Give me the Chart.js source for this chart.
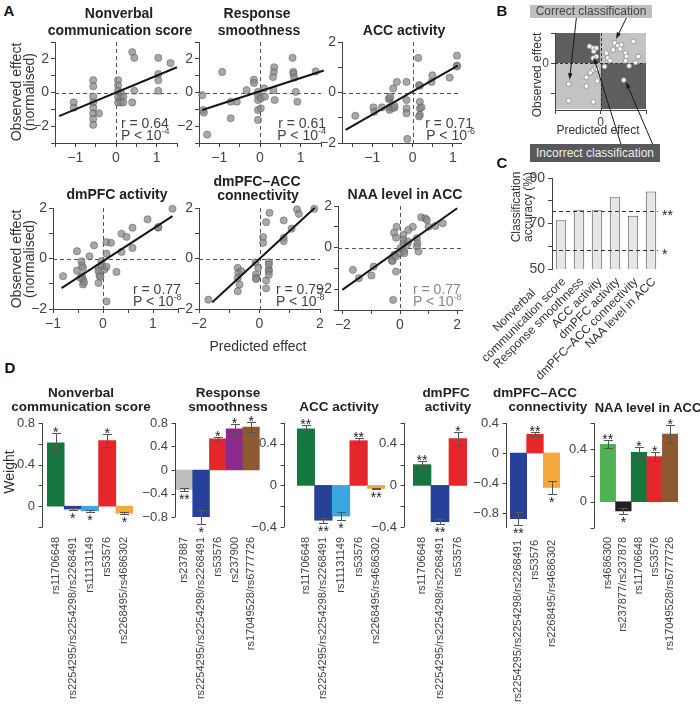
<!DOCTYPE html>
<html><head><meta charset="utf-8"><title>Figure</title>
<script src="https://cdn.jsdelivr.net/npm/chart.js@4.4.1/dist/chart.umd.min.js"></script>
<style>
html,body{margin:0;padding:0;background:#fff;width:700px;height:716px;overflow:hidden}
#wrap{position:relative;width:700px;height:716px;font-family:"Liberation Sans",Arial,Helvetica,sans-serif}
#wrap canvas{position:absolute}
.t{position:absolute;white-space:nowrap;line-height:1;z-index:5}
.t sup{font-size:9px;line-height:0;vertical-align:6px}
</style></head><body><div id="wrap"></div>
<script>
// ================= DATA =================
// Panel A scatter data (predicted effect x, observed effect y)
const nvcX = [-1.04,-1.04,-0.56,-0.56,-0.56,-0.56,-0.56,-0.56,-0.56,-0.56,-0.42,0.05,0.05,0.05,0.05,0.05,0.12,0.12,0.12,0.18,0.18,0.4,0.45,0.45,0.4,1.04,1.04,1.04,1.04,1.34];
const nvcY = [-0.59,-0.9,0.73,0.37,-0.25,-0.59,-0.9,-1.24,-1.57,-1.92,-1.24,0.73,0.43,0.1,-0.25,-0.59,0.0,-0.25,-0.59,-0.25,-0.59,2.4,2.06,0.1,-0.59,2.06,1.1,0.73,0.1,1.75];
const nvcFitX = [-1.4, 1.5], nvcFitY = [-1.4, 1.5];

const rsX = [-1.42,-1.40,-1.38,-1.30,-0.93,-0.72,-0.72,-0.57,-0.33,-0.15,-0.15,-0.05,-0.05,-0.05,-0.05,-0.05,0.02,0.02,0.1,0.12,0.34,0.35,0.32,0.33,0.36,0.8,0.82,0.82,0.84,0.88,0.92,1.37];
const rsY = [-0.16,-1.04,-1.2,-2.5,1.22,-0.55,-1.53,-0.55,0.14,0.76,0.57,0.04,-0.16,-0.45,-1.04,-1.63,-0.94,-0.35,0.24,-0.25,1.22,1.5,0.92,0.14,-0.45,2.06,1.22,1.12,0.88,0.04,-0.55,1.25];
const rsFitX = [-1.42, 1.57], rsFitY = [-1.04, 1.31];

const accX = [-1.42,-0.97,-0.95,-0.76,-0.57,-0.57,-0.57,-0.59,-0.55,-0.5,-0.45,-0.45,-0.48,-0.39,-0.15,-0.15,-0.15,-0.15,-0.13,0.14,0.16,0.18,0.18,0.18,0.18,0.16,0.22,0.47,0.49,0.92,1.1,1.1,1.1];
const accY = [-0.92,-0.59,-0.76,-0.59,-0.69,-0.59,-0.27,-0.24,-0.17,-0.6,-0.6,-0.52,0.16,0.42,0.42,-0.3,-0.63,-0.82,-1.84,1.37,0.29,0.27,-0.37,-0.63,-0.89,-0.95,-0.59,0.42,0.68,0.59,1.46,1.07,1.03];
const accFitX = [-1.66, 1.12], accFitY = [-1.48, 1.06];

const dmX = [-0.8,-0.52,-0.52,-0.43,-0.42,-0.4,-0.42,-0.4,-0.4,-0.38,-0.45,-0.27,-0.18,-0.09,-0.09,-0.07,-0.05,-0.09,-0.03,-0.02,0.03,0.07,0.16,0.07,0.07,0.07,0.27,0.37,0.37,0.47,0.59,0.59,0.89,1.1,1.11,1.39];
const dmY = [-0.7,0.29,-0.48,-0.11,-0.28,-0.37,-0.7,-0.83,-1.03,-0.94,-0.77,0.09,0.52,-0.37,-0.5,-0.68,-0.73,-0.97,-0.1,-0.3,-0.44,0.65,0.62,0.19,-0.33,-1.7,-0.53,0.26,0.98,0.86,0.42,1.22,1.55,1.22,1.25,1.97];
const dmFitX = [-0.83, 1.39], dmFitY = [-1.17, 1.68];

const cnX = [-1.69,-0.72,-0.7,-0.72,-0.66,-0.72,-0.6,-0.13,-0.12,-0.1,-0.12,-0.04,0.12,0.12,0.22,0.31,0.31,0.31,0.31,0.33,0.22,0.22,0.31,0.8,0.8,0.8,1.06,1.24,1.3,1.81];
const cnY = [-1.63,-0.37,-0.57,-0.77,-1.03,-1.3,-0.5,-0.15,-0.64,-0.77,-0.81,-0.37,0.85,0.62,1.44,-0.15,-0.44,-0.5,-0.24,1.81,-0.87,-1.18,-0.64,1.51,0.82,0.69,1.18,1.95,1.77,1.97];
const cnFitX = [-1.56, 1.83], cnFitY = [-1.73, 2.01];

const naX = [-1.65,-1.44,-1.0,-0.92,-0.29,-0.26,-0.2,-0.14,-0.14,-0.24,-0.21,-0.12,-0.14,0.0,0.02,0.12,0.12,0.12,0.14,0.15,0.24,0.29,0.29,0.45,0.59,0.61,0.59,0.65,0.74,0.88,0.94,1.0,1.24,1.5];
const naY = [-1.07,-1.47,-1.34,-0.91,-0.62,-0.64,-0.35,-0.43,-1.15,-2.51,0.72,1.0,0.48,-0.27,-0.03,0.61,0.37,0.21,-0.16,-0.27,0.13,0.29,0.85,1.0,0.45,0.21,0.05,-0.19,1.46,1.41,1.33,1.0,1.04,1.17];
const naFitX = [-2.02, 2.0], naFitY = [-2.03, 1.89];

// Panel A tick values / labels
const tA1x = [-1.5,-1,-0.5,0,0.5,1,1.5], lA1x = ['','\u22121','','0','','1',''];
const tA1y = [-3,-2,-1,0,1,2,3],          lA1y = ['','\u22122','','0','','2',''];
const tA3x = [-1.5,-1,-0.5,0,0.5,1],      lA3x = ['','\u22121','','0','','1'];
const tA3y = [-2,-1,0,1,2],               lA3y = ['\u22122','','0','','2'];
const tA4x = [-1,-0.5,0,0.5,1,1.5],       lA4x = ['\u22121','','0','','1',''];
const tA5x = [-2,-1,0,1,2],               lA5x = ['\u22122','','0','','2'];
const tA6y = [-3,-2,-1,0,1,2],            lA6y = ['','\u22122','','0','','2'];

// Panel B schematic points and arrows
const bX = [-0.7,-0.7,-0.31,-0.31,-0.22,-0.16,-0.11,-0.07,-0.07,-0.16,-0.24,-0.16,-0.09,-0.15,-0.09,-0.16,0.09,0.13,0.16,0.21,0.31,0.38,0.46,0.43,0.28,0.72,0.55,0.57,0.55,0.63,0.77,0.83,0.51];
const bY = [-0.69,-1.24,-0.47,-0.76,-0.31,-0.22,-0.17,-0.2,-0.59,-1.28,0.56,0.5,0.5,0.39,0.22,0.17,-0.11,0.33,0.17,0.09,0.67,0.58,0.61,0.47,0.44,0.72,0.33,0.22,0.08,-0.09,0.02,0.22,-0.56];
const arrowTailX = [-0.53, 0.57, 0.46, 1.16], arrowTailY = [1.5, 1.5, -2.73, -2.73];
const arrowHeadX = [-0.68, 0.34, -0.15, 0.56], arrowHeadY = [-0.55, 0.8, 0.2, -0.62];
const tBx = [-1,0,1], lBx = ['','0',''];
const tBy = [-1,0,1], lBy = ['','0',''];

// Panel C
const cCategories = [['Nonverbal', 'communication score'], 'Response smoothness', 'ACC activity', 'dmPFC activity', 'dmPFC\u2013ACC connectivity', 'NAA level in ACC'];
const cAccuracy = [71.4, 75.8, 75.8, 81.5, 73.4, 84.1];
const cSigLevels = [75.6, 58.5], cSigLabels = ['**', '*'];
const tCy = [50,60,70,80,90], lCy = ['50','','70','','90'];

// Panel D
const d1Labels = ['rs11706648','rs2254295/rs2254298/rs2268491','rs11131149','rs53576','rs2268495/rs4686302'];
const d1Weights = [0.61,-0.028,-0.045,0.63,-0.068], d1Err = [0.09,0.008,0.008,0.06,0.008], d1Stars = ['*','*','*','*','*'];
const d2Labels = ['rs237887','rs2254295/rs2254298/rs2268491','rs53576','rs237900','rs17049528/rs6777726'];
const d2Weights = [-0.33,-0.80,0.53,0.70,0.73], d2Err = [0.025,0.12,0.04,0.08,0.08], d2Stars = ['**','*','*','*','*'];
const d3Labels = ['rs11706648','rs2254295/rs2254298/rs2268491','rs11131149','rs53576','rs2268495/rs4686302'];
const d3Weights = [0.545,-0.335,-0.295,0.43,-0.03], d3Err = [0.04,0.025,0.035,0.025,0.008], d3Stars = ['**','**','*','**','**'];
const d4Labels = ['rs11706648','rs2254295/rs2254298/rs2268491','rs53576'];
const d4Weights = [0.20,-0.35,0.45], d4Err = [0.035,0.025,0.06], d4Stars = ['**','**','*'];
const d5Labels = ['rs2254295/rs2254298/rs2268491','rs53576','rs2268495/rs4686302'];
const d5Weights = [-0.876,0.25,-0.46], d5Err = [0.09,0.025,0.09], d5Stars = ['**','**','*'];
const d6Labels = ['rs4686300','rs237877/rs237878','rs11706648','rs53576','rs17049528/rs6777726'];
const d6Weights = [0.438,-0.07,0.377,0.344,0.515], d6Err = [0.03,0.02,0.04,0.035,0.07], d6Stars = ['**','*','*','*','*'];
const tD1y = [-0.2,0,0.2,0.4,0.6,0.8], lD1y = ['','0','','0.4','','0.8'];
const tD2y = [-0.8,-0.4,0,0.4,0.8],    lD2y = ['\u22120.8','\u22120.4','0','0.4','0.8'];
const tD3y = [-0.4,-0.2,0,0.2,0.4,0.6], lD3y = ['\u22120.4','','0','','0.4',''];
const tD5y = [-0.8,-0.4,0,0.4],        lD5y = ['\u22120.8','\u22120.4','0','0.4'];
const tD6y = [-0.2,0,0.2,0.4,0.6],     lD6y = ['','0','','0.4',''];

// ================= STYLE =================
const FONT = '"Liberation Sans", Arial, Helvetica, sans-serif';
const GREEN='#16763f', BLUE='#27409a', CYAN='#38a8df', RED='#e5262b', ORANGE='#f3a83b',
      GREY='#bdbdbd', PURPLE='#8c2b8b', BROWN='#8b5a33', LGREEN='#50b153', BLACK='#231f20';
Chart.defaults.font.family = FONT;
Chart.defaults.font.size = 14;
Chart.defaults.color = '#444';
Chart.defaults.animation = false;

const wrap = document.getElementById('wrap');

function text(html, x, y, o = {}) {
  const d = document.createElement('div');
  d.className = 't';
  d.innerHTML = html;
  d.style.left = x + 'px'; d.style.top = y + 'px';
  d.style.fontSize = (o.size || 14) + 'px';
  if (o.bold) d.style.fontWeight = 'bold';
  d.style.color = o.color || '#222';
  if (o.lh) d.style.lineHeight = o.lh + 'px';
  d.style.textAlign = 'center';
  const al = o.align || 'c';
  let tr = 'translate(-50%,-50%)';
  if (o.rot) tr = 'translate(-50%,-50%) rotate(-90deg)';
  else if (al === 'l') tr = 'translate(0,-50%)';
  else if (al === 'r') tr = 'translate(-100%,-50%)';
  d.style.transform = tr;
  wrap.appendChild(d);
  return d;
}
function box(html, x0, y0, x1, y1, bg, color) {
  const d = document.createElement('div');
  d.className = 't';
  d.innerHTML = html;
  Object.assign(d.style, {left: x0 + 'px', top: y0 + 'px', width: (x1 - x0) + 'px', height: (y1 - y0) + 'px',
    lineHeight: (y1 - y0) + 'px', background: bg, color: color, fontSize: '12px', textAlign: 'center'});
  wrap.appendChild(d);
}

function mkCanvas(cr) {
  const cv = document.createElement('canvas');
  cv.width = cr[2] - cr[0]; cv.height = cr[3] - cr[1];
  cv.style.left = cr[0] + 'px'; cv.style.top = cr[1] + 'px';
  cv.style.width = cv.width + 'px'; cv.style.height = cv.height + 'px';
  wrap.appendChild(cv);
  return cv;
}
function build(cr, pr, cfg) {
  const cv = mkCanvas(cr);
  const o = cfg.options;
  o.responsive = false; o.maintainAspectRatio = false; o.animation = false; o.devicePixelRatio = 1; o.events = [];
  o.plugins = Object.assign({legend: {display: false}, tooltip: {enabled: false}, title: {display: false}}, o.plugins || {});
  o.layout = {padding: {left: 0, top: pr[1] - cr[1], right: cr[2] - pr[2], bottom: 0}};
  const xH = cr[3] - pr[3], yW = pr[0] - cr[0];
  o.scales.x.afterFit = s => { s.height = xH; };
  o.scales.y.afterFit = s => { s.width = yW; };
  return new Chart(cv, cfg);
}
function linAxis(min, max, tv, tl, pad, fs) {
  return {type: 'linear', min, max,
    afterBuildTicks: s => { s.ticks = tv.map(v => ({value: v})); },
    ticks: {autoSkip: false, maxRotation: 0, minRotation: 0, padding: pad, color: '#444', font: {size: fs || 14},
      callback: (v, i) => tl[i]},
    grid: {display: true, drawOnChartArea: false, drawTicks: true, tickLength: 4, color: '#444', lineWidth: 1},
    border: {display: true, color: '#444', width: 1}};
}

// ---------- plugins ----------
function zeroLines(color) {
  return {id: 'zeroLines', beforeDatasetsDraw(c) {
    const {ctx, chartArea: a, scales: {x, y}} = c;
    ctx.save(); ctx.strokeStyle = color || '#555'; ctx.lineWidth = 1; ctx.setLineDash([4, 3]);
    const px = Math.round(x.getPixelForValue(0)) + 0.5, py = Math.round(y.getPixelForValue(0)) + 0.5;
    ctx.beginPath(); ctx.moveTo(px, a.top); ctx.lineTo(px, a.bottom); ctx.moveTo(a.left, py); ctx.lineTo(a.right, py); ctx.stroke();
    ctx.restore();
  }};
}
function quadPlugin() {
  return {id: 'quads', beforeDatasetsDraw(c) {
    const {ctx, chartArea: a, scales: {x, y}} = c;
    const px = x.getPixelForValue(0), py = y.getPixelForValue(0);
    ctx.save();
    ctx.fillStyle = '#5e5e5e';
    ctx.fillRect(a.left + 1, a.top, px - a.left - 1, py - a.top);
    ctx.fillRect(px, py, a.right - px, a.bottom - py - 1);
    ctx.fillStyle = '#c3c3c3';
    ctx.fillRect(px, a.top, a.right - px, py - a.top);
    ctx.fillRect(a.left + 1, py, px - a.left - 1, a.bottom - py - 1);
    ctx.strokeStyle = '#333'; ctx.setLineDash([3, 2]); ctx.lineWidth = 1;
    ctx.beginPath();
    ctx.moveTo(Math.round(px) + 0.5, a.top); ctx.lineTo(Math.round(px) + 0.5, a.bottom);
    ctx.moveTo(a.left, Math.round(py) + 0.5); ctx.lineTo(a.right, Math.round(py) + 0.5);
    ctx.stroke(); ctx.restore();
  }};
}
function arrowPlugin(tx, ty, hx, hy) {
  return {id: 'arrows', afterDraw(c) {
    const {ctx, scales: {x, y}} = c;
    ctx.save(); ctx.strokeStyle = '#1a1a1a'; ctx.fillStyle = '#1a1a1a'; ctx.lineWidth = 1;
    for (let i = 0; i < tx.length; i++) {
      const x0 = x.getPixelForValue(tx[i]), y0 = y.getPixelForValue(ty[i]);
      const x1 = x.getPixelForValue(hx[i]), y1 = y.getPixelForValue(hy[i]);
      const ang = Math.atan2(y1 - y0, x1 - x0), L = 7;
      ctx.beginPath(); ctx.moveTo(x0, y0); ctx.lineTo(x1 - Math.cos(ang) * 4, y1 - Math.sin(ang) * 4); ctx.stroke();
      ctx.beginPath(); ctx.moveTo(x1, y1);
      ctx.lineTo(x1 - L * Math.cos(ang - 0.33), y1 - L * Math.sin(ang - 0.33));
      ctx.lineTo(x1 - L * Math.cos(ang + 0.33), y1 - L * Math.sin(ang + 0.33));
      ctx.closePath(); ctx.fill();
    }
    ctx.restore();
  }};
}
function sigPlugin(vals, labs) {
  return {id: 'sig', afterDatasetsDraw(c) {
    const {ctx, chartArea: a, scales: {y}} = c;
    ctx.save(); ctx.strokeStyle = '#333'; ctx.lineWidth = 1; ctx.setLineDash([4, 3]);
    ctx.font = '14px ' + FONT; ctx.fillStyle = '#222'; ctx.textAlign = 'left'; ctx.textBaseline = 'alphabetic';
    vals.forEach((v, i) => {
      const py = Math.round(y.getPixelForValue(v)) + 0.5;
      ctx.beginPath(); ctx.moveTo(a.left, py); ctx.lineTo(a.right - 2, py); ctx.stroke();
      ctx.fillText(labs[i], a.right + 2, py + 8);
    });
    ctx.restore();
  }};
}
// 45-degree category labels, multi-line blocks centred and stacked up-left of the tick
function rotLabels(dx, dy, fs, color) {
  return {id: 'rotLabels', afterDraw(c) {
    const ctx = c.ctx, xs = c.scales.x, a = c.chartArea, labels = c.data.labels;
    ctx.save(); ctx.font = fs + 'px ' + FONT; ctx.fillStyle = color; ctx.textAlign = 'right'; ctx.textBaseline = 'middle';
    const lh = fs * 1.12;
    labels.forEach((lab, i) => {
      const lines = Array.isArray(lab) ? lab : [lab];
      const ws = lines.map(l => ctx.measureText(l).width), mw = Math.max(...ws);
      ctx.save(); ctx.translate(xs.getPixelForTick(i) + dx, a.bottom + dy); ctx.rotate(-Math.PI / 4);
      lines.forEach((l, j) => ctx.fillText(l, -(mw - ws[j]) / 2, -(lines.length - 1 - j) * lh));
      ctx.restore();
    });
    ctx.restore();
  }};
}
function gapAxis(gap) {
  return {id: 'gapAxis', afterDraw(c) {
    const ctx = c.ctx, ys = c.scales.y, x = Math.round(c.chartArea.left - gap) + 0.5;
    ctx.save(); ctx.strokeStyle = '#444'; ctx.lineWidth = 1; ctx.beginPath();
    ctx.moveTo(x, ys.getPixelForValue(ys.max)); ctx.lineTo(x, ys.getPixelForValue(ys.min));
    ys.ticks.forEach(t => { const py = Math.round(ys.getPixelForValue(t.value)) + 0.5; ctx.moveTo(x, py); ctx.lineTo(x - 4, py); });
    ctx.stroke(); ctx.restore();
  }};
}
function errBars(errs, stars) {
  return {id: 'errs', afterDatasetsDraw(c) {
    const ctx = c.ctx, ys = c.scales.y, meta = c.getDatasetMeta(0), vals = c.data.datasets[0].data;
    ctx.save(); ctx.strokeStyle = '#555'; ctx.lineWidth = 1; ctx.fillStyle = '#222';
    ctx.font = '14px ' + FONT; ctx.textAlign = 'center'; ctx.textBaseline = 'alphabetic';
    meta.data.forEach((el, i) => {
      const v = vals[i], e = errs[i];
      const x = Math.round(el.x) + 0.5;
      const yHi = Math.round(ys.getPixelForValue(v + e)) + 0.5, yLo = Math.round(ys.getPixelForValue(v - e)) + 0.5;
      ctx.beginPath();
      ctx.moveTo(x, yHi); ctx.lineTo(x, yLo);
      ctx.moveTo(x - 4.5, yHi); ctx.lineTo(x + 4.5, yHi);
      ctx.moveTo(x - 4.5, yLo); ctx.lineTo(x + 4.5, yLo);
      ctx.stroke();
      if (v >= 0) ctx.fillText(stars[i], el.x, yHi + 3);
      else ctx.fillText(stars[i], el.x, yLo + 12.5);
    });
    ctx.restore();
  }};
}

// ---------- chart builders ----------
function scatterA(cr, pr, xs, ys, fx, fy, xr, yr, xt, xl, yt, yl) {
  const pts = xs.map((x, i) => ({x, y: ys[i]}));
  const fit = fx.map((x, i) => ({x, y: fy[i]}));
  return build(cr, pr, {type: 'scatter', data: {datasets: [
      {type: 'line', data: fit, borderColor: '#151515', borderWidth: 2, pointRadius: 0, fill: false, clip: false, order: 0},
      {data: pts, pointRadius: 3.6, backgroundColor: 'rgba(135,135,135,0.72)', borderColor: 'rgba(90,90,90,0.75)', borderWidth: 0.7, clip: false, order: 1}]},
    options: {scales: {x: linAxis(xr[0], xr[1], xt, xl, 3), y: linAxis(yr[0], yr[1], yt, yl, 2)}},
    plugins: [zeroLines()]});
}
function barD(cr, pr, labels, vals, errs, stars, colors, yr, yt, yl, gap, xpad) {
  return build(cr, pr, {type: 'bar', data: {labels, datasets: [{data: vals, backgroundColor: colors, borderWidth: 0, barPercentage: 1, categoryPercentage: 1}]},
    options: {scales: {
      x: {type: 'category', offset: true, grid: {display: false, drawTicks: false}, border: {display: false},
          ticks: {autoSkip: false, minRotation: 90, maxRotation: 90, padding: xpad, color: '#444', font: {size: 11}}},
      y: {type: 'linear', min: yr[0], max: yr[1], afterBuildTicks: s => { s.ticks = yt.map(v => ({value: v})); },
          ticks: {autoSkip: false, padding: gap + 7, color: '#444', font: {size: 13}, callback: (v, i) => yl[i]},
          grid: {display: false, drawTicks: false}, border: {display: false}}}},
    plugins: [gapAxis(gap), errBars(errs, stars)]});
}

// ================= PANEL A =================
scatterA([20,12,190,165],  [55,42,177,143],  nvcX, nvcY, nvcFitX, nvcFitY, [-1.5,1.5], [-3,3], tA1x, lA1x, tA1y, lA1y);
scatterA([165,12,335,165], [199,42,321,143], rsX, rsY, rsFitX, rsFitY, [-1.5,1.5], [-3,3], tA1x, lA1x, tA1y, lA1y);
scatterA([305,12,480,165], [342,42,461,143], accX, accY, accFitX, accFitY, [-1.75,1.2], [-2,2], tA3x, lA3x, tA3y, lA3y);
scatterA([15,178,190,330], [53,208,178,309], dmX, dmY, dmFitX, dmFitY, [-1,1.5], [-2,2], tA4x, lA4x, tA3y, lA3y);
scatterA([165,178,332,330],[199,208,320,309], cnX, cnY, cnFitX, cnFitY, [-2,2], [-2,2], tA5x, lA5x, tA3y, lA3y);
scatterA([300,178,478,330],[338,206,462,310], naX, naY, naFitX, naFitY, [-2.17,2.17], [-3,2], tA5x, lA5x, tA6y, lA6y);

// ================= PANEL B =================
build([500,0,700,170], [555,33,646,110], {type: 'scatter',
  data: {datasets: [{data: bX.map((x, i) => ({x, y: bY[i]})), pointRadius: 2.4, backgroundColor: '#ffffff', borderColor: '#8a8a8a', borderWidth: 0.8, clip: false}]},
  options: {scales: {x: linAxis(-1, 1, tBx, lBx, 1, 12), y: linAxis(-1.55, 1, tBy, lBy, 2, 12)}},
  plugins: [quadPlugin(), arrowPlugin(arrowTailX, arrowTailY, arrowHeadX, arrowHeadY)]});

// ================= PANEL C =================
build([430,150,700,400], [552,178,660,269], {type: 'bar',
  data: {labels: cCategories, datasets: [{data: cAccuracy, backgroundColor: '#e6e6e6', borderColor: '#555', borderWidth: 1, borderSkipped: false, barPercentage: 0.58, categoryPercentage: 1}]},
  options: {scales: {
    x: {type: 'category', offset: true, grid: {display: false, drawTicks: false}, border: {display: false},
        ticks: {display: false}},
    y: linAxis(50, 90, tCy, lCy, 3, 14)}},
  plugins: [sigPlugin(cSigLevels, cSigLabels), rotLabels(3, 11, 12, '#333')]});

// ================= PANEL D =================
barD([0,390,158,716],   [47,423,133,527],  d1Labels, d1Weights, d1Err, d1Stars, [GREEN,BLUE,CYAN,RED,ORANGE], [-0.2,0.8], tD1y, lD1y, 5, 10);
barD([130,390,287,716], [176,423,262,517], d2Labels, d2Weights, d2Err, d2Stars, [GREY,BLUE,RED,PURPLE,BROWN], [-0.8,0.8], tD2y, lD2y, 1, 20);
barD([240,390,410,716], [297,423,385,527], d3Labels, d3Weights, d3Err, d3Stars, [GREEN,BLUE,CYAN,RED,ORANGE], [-0.4,0.6], tD3y, lD3y, 13, 10);
barD([360,390,492,716], [413,423,467,527], d4Labels, d4Weights, d4Err, d4Stars, [GREEN,BLUE,RED], [-0.4,0.6], tD3y, lD3y, 9, 10);
barD([455,390,585,716], [510,423,560,528], d5Labels, d5Weights, d5Err, d5Stars, [BLUE,RED,ORANGE], [-1.0,0.4], tD5y, lD5y, 4, 12);
barD([555,390,700,716], [600,423,678,528], d6Labels, d6Weights, d6Err, d6Stars, [LGREEN,BLACK,GREEN,RED,BROWN], [-0.2,0.6], tD6y, lD6y, 6, 9);

// ================= TEXT =================
// panel letters
text('A', 9, 10, {bold: true, size: 15, color: '#111'});
text('B', 502, 10, {bold: true, size: 15, color: '#111'});
text('C', 502, 162, {bold: true, size: 15, color: '#111'});
text('D', 10, 367, {bold: true, size: 15, color: '#111'});
// panel A titles
text('Nonverbal', 119, 13, {bold: true});
text('communication score', 120, 30, {bold: true});
text('Response', 257, 13, {bold: true});
text('smoothness', 259, 30, {bold: true});
text('ACC activity', 404, 30, {bold: true});
text('dmPFC activity', 117, 194, {bold: true});
text('dmPFC\u2013ACC', 257, 181, {bold: true});
text('connectivity', 258, 195, {bold: true});
text('NAA level in ACC', 405, 194, {bold: true});
// panel A axis titles
text('Observed effect<br>(normalised)', 23, 92, {rot: true, lh: 13, color: '#333'});
text('Observed effect<br>(normalised)', 23, 259, {rot: true, lh: 13, color: '#333'});
text('Predicted effect', 258, 346, {color: '#333'});
// stats
text('r = 0.64', 121, 123, {align: 'l', color: '#444'});
text('P &lt; 10<sup>-4</sup>', 121, 135, {align: 'l', color: '#444'});
text('r = 0.61', 326, 123, {align: 'r', color: '#444'});
text('P &lt; 10<sup>-4</sup>', 326, 135, {align: 'r', color: '#444'});
text('r = 0.71', 473, 123, {align: 'r', color: '#444'});
text('P &lt; 10<sup>-6</sup>', 475, 135, {align: 'r', color: '#444'});
text('r = 0.77', 133, 289, {align: 'l', color: '#444'});
text('P &lt; 10<sup>-8</sup>', 133, 301, {align: 'l', color: '#444'});
text('r = 0.79', 276, 289, {align: 'l', color: '#444'});
text('P &lt; 10<sup>-8</sup>', 276, 301, {align: 'l', color: '#444'});
text('r = 0.77', 413, 289, {align: 'l', color: '#888'});
text('P &lt; 10<sup>-8</sup>', 413, 301, {align: 'l', color: '#888'});
// panel B
box('Correct classification', 530, 5, 652, 18, '#bfbfbf', '#444');
box('Incorrect classification', 530, 144, 660, 162, '#58595b', '#eeeeee');
text('Observed effect', 537, 75, {rot: true, size: 12, color: '#333'});
text('Predicted effect', 598, 130, {size: 12, color: '#333'});
// panel C
text('Classification<br>accuracy (%)', 522, 207, {rot: true, size: 12, lh: 12, color: '#333'});
// panel D titles
text('Nonverbal', 81, 393, {bold: true, size: 13.5});
text('communication score', 81, 407, {bold: true, size: 13.5});
text('Response', 228, 393, {bold: true, size: 13.5});
text('smoothness', 228, 407, {bold: true, size: 13.5});
text('ACC activity', 339, 407, {bold: true, size: 13.5});
text('dmPFC', 446, 393, {bold: true, size: 13.5});
text('activity', 448, 407, {bold: true, size: 13.5});
text('dmPFC\u2013ACC', 535, 393, {bold: true, size: 13.5});
text('connectivity', 548, 407, {bold: true, size: 13.5});
text('NAA level in ACC', 648, 407, {bold: true, size: 13});
text('Weight', 9, 472, {rot: true, color: '#333'});
</script></body></html>
